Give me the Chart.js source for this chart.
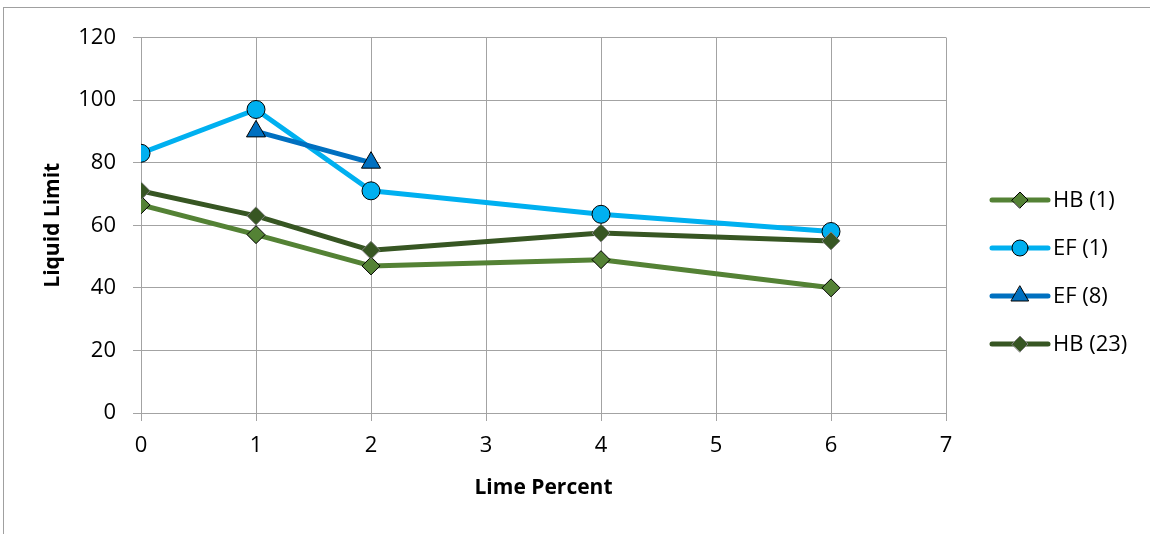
<!DOCTYPE html>
<html>
<head>
<meta charset="utf-8">
<title>Liquid Limit vs Lime Percent</title>
<script src="https://cdn.jsdelivr.net/npm/chart.js@4.4.0/dist/chart.umd.min.js"></script>
<style>
  html, body { margin: 0; padding: 0; background: #ffffff; }
  #wrap { width: 1150px; height: 534px; position: relative; }
</style>
</head>
<body>
<div id="wrap"><canvas id="chart" width="1150" height="534"></canvas></div>
<script>
// Lime content (%) for each soil sample series
const hb1Lime  = [0, 1, 2, 4, 6];
const ef1Lime  = [0, 1, 2, 4, 6];
const ef8Lime  = [1, 2];
const hb23Lime = [0, 1, 2, 4, 6];

// Liquid limit readings
const hb1LL  = [66.5, 57, 47, 49, 40];
const ef1LL  = [83, 97, 71, 63.5, 58];
const ef8LL  = [90, 80];
const hb23LL = [71, 63, 52, 57.5, 55];

const seriesNames = ['HB (1)', 'EF (1)', 'EF (8)', 'HB (23)'];

// Axis tick values
const xTicks = [0, 1, 2, 3, 4, 5, 6, 7];
const yTicks = [0, 20, 40, 60, 80, 100, 120];

const FONT = "'Open Sans', 'Liberation Sans', sans-serif";
const GRID = '#a3a3a3';

function pts(xs, ys) { return xs.map((x, i) => ({ x: x, y: ys[i] })); }

const datasets = [
  {
    label: seriesNames[0], data: pts(hb1Lime, hb1LL),
    borderColor: '#548235', backgroundColor: '#548235',
    pointStyle: 'rectRot', pointRadius: 9, pointBackgroundColor: '#548235',
    pointBorderColor: '#000000', pointBorderWidth: 1, order: 4
  },
  {
    label: seriesNames[1], data: pts(ef1Lime, ef1LL),
    borderColor: '#00b0f0', backgroundColor: '#00b0f0',
    pointStyle: 'circle', pointRadius: 9, pointBackgroundColor: '#00b0f0',
    pointBorderColor: '#000000', pointBorderWidth: 1, order: 3
  },
  {
    label: seriesNames[2], data: pts(ef8Lime, ef8LL),
    borderColor: '#0070c0', backgroundColor: '#0070c0',
    pointStyle: 'triangle', pointRadius: 11, pointBackgroundColor: '#0070c0',
    pointBorderColor: '#000000', pointBorderWidth: 1, order: 2
  },
  {
    label: seriesNames[3], data: pts(hb23Lime, hb23LL),
    borderColor: '#375623', backgroundColor: '#375623',
    pointStyle: 'rectRot', pointRadius: 9, pointBackgroundColor: '#375623',
    pointBorderColor: '#7f7f7f', pointBorderWidth: 1, order: 1
  }
].map(d => Object.assign({
  borderWidth: 5, borderCapStyle: 'round', borderJoinStyle: 'round',
  showLine: true, fill: false, tension: 0, pointHoverRadius: d.pointRadius
}, d));

// Page frame around the chart
const framePlugin = {
  id: 'frame',
  beforeDraw(chart) {
    const ctx = chart.ctx;
    ctx.save();
    ctx.fillStyle = '#ffffff';
    ctx.fillRect(0, 0, chart.width, chart.height);
    ctx.strokeStyle = '#a0a0a0';
    ctx.lineWidth = 1;
    ctx.strokeRect(3.5, 7.5, chart.width + 20, chart.height + 20);
    ctx.restore();
  }
};

// Legend on the right: line sample with marker, then the series name
const sideLegend = {
  id: 'sideLegend',
  afterDraw(chart) {
    const ctx = chart.ctx;
    const x0 = 992, x1 = 1048, mx = 1020, tx = 1053;
    const top = 200, gap = 48;
    chart.data.datasets.forEach((ds, i) => {
      const y = top + i * gap;
      ctx.save();
      ctx.strokeStyle = ds.borderColor;
      ctx.lineWidth = ds.borderWidth;
      ctx.lineCap = 'round';
      ctx.beginPath();
      ctx.moveTo(x0, y);
      ctx.lineTo(x1, y);
      ctx.stroke();
      ctx.fillStyle = ds.pointBackgroundColor;
      ctx.strokeStyle = ds.pointBorderColor;
      ctx.lineWidth = ds.pointBorderWidth;
      Chart.helpers.drawPoint(ctx, {
        pointStyle: ds.pointStyle, radius: ds.pointRadius - 1,
        rotation: 0, borderWidth: ds.pointBorderWidth
      }, mx, y);
      ctx.fillStyle = '#000000';
      ctx.font = '22px ' + FONT;
      ctx.textAlign = 'left';
      ctx.textBaseline = 'middle';
      ctx.fillText(ds.label, tx, y + 1);
      ctx.restore();
    });
  }
};

new Chart(document.getElementById('chart'), {
  type: 'scatter',
  data: { datasets: datasets },
  plugins: [framePlugin, sideLegend],
  options: {
    responsive: false,
    animation: false,
    devicePixelRatio: 1,
    layout: { padding: { left: 0, top: 37.5, right: 204, bottom: 0 } },
    plugins: { legend: { display: false }, tooltip: { enabled: false } },
    scales: {
      x: {
        type: 'linear', min: xTicks[0], max: xTicks[xTicks.length - 1],
        afterBuildTicks: s => { s.ticks = xTicks.map(v => ({ value: v })); },
        afterFit: s => { s.height = 121; },
        ticks: { color: '#000000', font: { family: FONT, size: 22 }, padding: 12 },
        grid: { color: GRID, lineWidth: 1, tickLength: 8, drawTicks: true },
        border: { color: GRID, width: 1 },
        title: {
          display: true, text: 'Lime Percent', color: '#000000',
          font: { family: FONT, size: 21, weight: 'bold' },
          padding: { top: 0, bottom: 33 }
        }
      },
      y: {
        type: 'linear', min: yTicks[0], max: yTicks[yTicks.length - 1],
        afterBuildTicks: s => { s.ticks = yTicks.map(v => ({ value: v })); },
        afterFit: s => { s.width = 141; },
        ticks: { color: '#000000', font: { family: FONT, size: 22 }, padding: 17 },
        grid: { color: GRID, lineWidth: 1, tickLength: 8, drawTicks: true },
        border: { color: GRID, width: 1 },
        title: {
          display: true, text: 'Liquid Limit', color: '#000000',
          font: { family: FONT, size: 21, weight: 'bold' },
          padding: { top: 40, bottom: 0 }
        }
      }
    }
  }
});
</script>
</body>
</html>
